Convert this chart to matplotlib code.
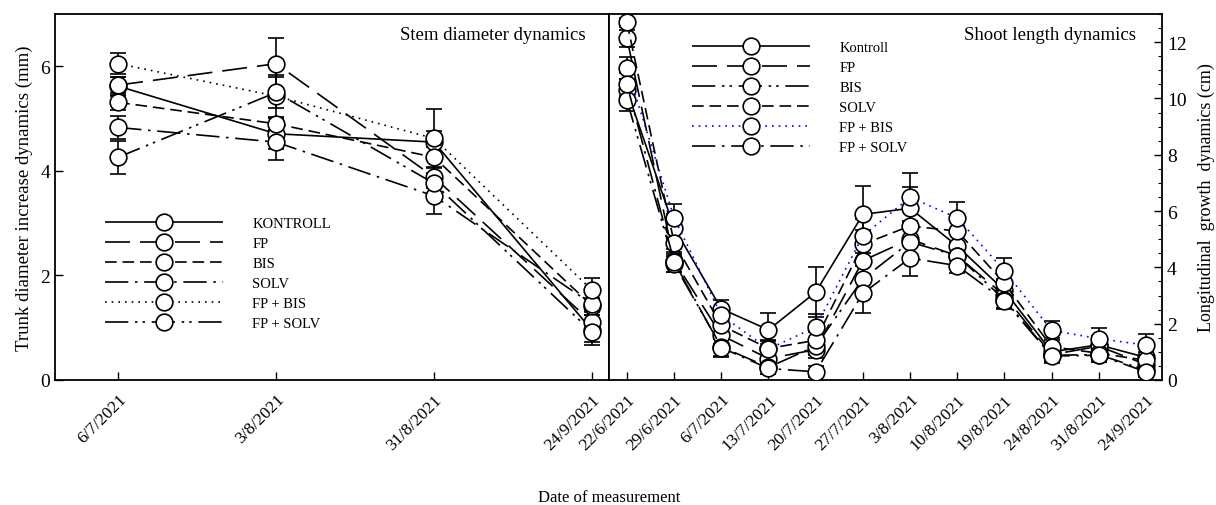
import matplotlib
matplotlib.use("Agg")
import matplotlib.pyplot as plt
from matplotlib.ticker import MultipleLocator

plt.rcParams['font.family'] = ['Liberation Serif', 'DejaVu Serif']

# ---- left panel: stem diameter (mm) ----
stem_dates = ["6/7/2021", "3/8/2021", "31/8/2021", "24/9/2021"]
stem_names = ["KONTROLL", "FP", "BIS", "SOLV", "FP + BIS", "FP + SOLV"]
stem_kontroll = [5.62, 4.71, 4.55, 0.95]
stem_fp = [5.64, 6.05, 3.88, 1.10]
stem_bis = [5.31, 4.90, 4.26, 1.42]
stem_solv = [4.83, 4.55, 3.52, 1.45]
stem_fpbis = [6.05, 5.43, 4.62, 1.72]
stem_fpsolv = [4.26, 5.50, 3.76, 0.92]
stem_kontroll_err = [0.18, 0.30, 0.64, 0.29]
stem_fp_err = [0.15, 0.50, 0.20, 0.15]
stem_bis_err = [0.14, 0.12, 0.20, 0.12]
stem_solv_err = [0.22, 0.35, 0.35, 0.12]
stem_fpbis_err = [0.20, 0.40, 0.15, 0.24]
stem_fpsolv_err = [0.32, 0.30, 0.20, 0.20]

# ---- right panel: shoot length (cm) ----
shoot_dates = ["22/6/2021", "29/6/2021", "6/7/2021", "13/7/2021", "20/7/2021", "27/7/2021",
               "3/8/2021", "10/8/2021", "19/8/2021", "24/8/2021", "31/8/2021", "24/9/2021"]
shoot_names = ["Kontroll", "FP", "BIS", "SOLV", "FP + BIS", "FP + SOLV"]
shoot_kontroll = [10.29, 5.41, 2.53, 1.78, 3.12, 5.88, 6.10, 4.76, 3.18, 1.00, 1.25, 0.80]
shoot_fp = [12.14, 4.24, 1.59, 0.76, 1.08, 4.24, 5.00, 4.41, 3.00, 0.90, 1.20, 0.55]
shoot_bis = [9.94, 4.12, 1.18, 0.45, 1.20, 3.59, 4.90, 4.41, 2.85, 0.88, 0.90, 0.35]
shoot_solv = [12.70, 4.88, 1.94, 1.12, 1.41, 4.82, 5.47, 5.29, 3.44, 1.18, 0.95, 0.70]
shoot_fpbis = [11.08, 5.76, 2.30, 1.10, 1.88, 5.12, 6.49, 5.76, 3.88, 1.76, 1.47, 1.24]
shoot_fpsolv = [10.50, 4.20, 1.15, 0.41, 0.29, 3.08, 4.33, 4.06, 2.82, 0.85, 0.88, 0.29]
shoot_kontroll_err = [0.40, 0.50, 0.30, 0.60, 0.88, 1.00, 0.75, 0.50, 0.40, 0.30, 0.30, 0.30]
shoot_fp_err = [0.30, 0.40, 0.30, 0.30, 0.30, 0.50, 0.60, 0.30, 0.30, 0.25, 0.30, 0.30]
shoot_bis_err = [0.40, 0.30, 0.35, 0.25, 0.30, 0.45, 0.50, 0.30, 0.30, 0.25, 0.25, 0.25]
shoot_solv_err = [0.15, 0.40, 0.30, 0.30, 0.30, 0.50, 0.70, 0.40, 0.40, 0.30, 0.25, 0.30]
shoot_fpbis_err = [0.40, 0.50, 0.30, 0.30, 0.45, 0.60, 0.85, 0.55, 0.45, 0.33, 0.37, 0.38]
shoot_fpsolv_err = [0.40, 0.35, 0.30, 0.20, 0.20, 0.70, 0.65, 0.25, 0.30, 0.25, 0.25, 0.20]

stem_vals = [stem_kontroll, stem_fp, stem_bis, stem_solv, stem_fpbis, stem_fpsolv]
stem_errs = [stem_kontroll_err, stem_fp_err, stem_bis_err, stem_solv_err, stem_fpbis_err, stem_fpsolv_err]
shoot_vals = [shoot_kontroll, shoot_fp, shoot_bis, shoot_solv, shoot_fpbis, shoot_fpsolv]
shoot_errs = [shoot_kontroll_err, shoot_fp_err, shoot_bis_err, shoot_solv_err, shoot_fpbis_err, shoot_fpsolv_err]

# line styles (dash patterns in units of linewidth)
solid = (0, ())
long_dash = (0, (15, 6))
dash = (0, (7, 3.5))
dash_dot = (0, (14, 4, 1.5, 4))
dots = (0, (1, 3))
dash_dot_dot = (0, (14, 4, 1.5, 3, 1.5, 4))
stem_styles = [solid, long_dash, dash, dash_dot, dots, dash_dot_dot]
shoot_styles = [solid, long_dash, dash_dot_dot, dash, dots, dash_dot]
shoot_colors = ['black', 'black', 'black', 'black', 'blue', 'black']

fig = plt.figure(figsize=(12.16, 5.06), dpi=100)
ax1 = fig.add_axes([55 / 1216, 125 / 506, 554 / 1216, 366 / 506])
ax2 = fig.add_axes([609 / 1216, 125 / 506, 553 / 1216, 366 / 506])

lw = 1.2
ms = 12


def draw_panel(ax, n, vals, errs, names, styles, colors):
    x = list(range(n))
    for v, e, name, st, c in zip(vals, errs, names, styles, colors):
        ax.errorbar(x, v, yerr=e, fmt='none', ecolor='black', elinewidth=lw,
                    capsize=6, capthick=lw, zorder=2)
        ax.plot(x, v, linestyle=st, color=c, linewidth=lw, marker='o', markersize=ms,
                markerfacecolor='white', markeredgecolor='black', markeredgewidth=lw,
                label=name, zorder=3)


draw_panel(ax1, len(stem_dates), stem_vals, stem_errs, stem_names, stem_styles, ['black'] * 6)
draw_panel(ax2, len(shoot_dates), shoot_vals, shoot_errs, shoot_names, shoot_styles, shoot_colors)

# left panel axes
ax1.set_xlim(-0.40, 3.108)
ax1.set_ylim(0, 7)
ax1.set_yticks([0, 2, 4, 6])
ax1.set_xticks(range(len(stem_dates)))
ax1.set_xticklabels(stem_dates, rotation=45, ha='right', rotation_mode='anchor')
ax1.tick_params(axis='both', direction='in', length=6, width=1.0, labelsize=14)
ax1.tick_params(axis='x', labelsize=12.5, pad=8)
ax1.set_ylabel("Trunk diameter increase dynamics (mm)", fontsize=13.5, labelpad=5)
ax1.text(0.957, 0.943, "Stem diameter dynamics", transform=ax1.transAxes,
         ha='right', va='center', fontsize=13.5)
ax1.legend(loc='upper left', bbox_to_anchor=(0.09, 0.447), frameon=False, fontsize=10.5,
           handlelength=8.1, handletextpad=2.0, labelspacing=0.47, borderpad=0,
           borderaxespad=0, numpoints=1)

# right panel axes
ax2.set_xlim(-0.38, 11.34)
ax2.set_ylim(0, 13)
ax2.yaxis.tick_right()
ax2.yaxis.set_label_position('right')
ax2.set_yticks([0, 2, 4, 6, 8, 10, 12])
ax2.yaxis.set_minor_locator(MultipleLocator(0.5))
ax2.set_xticks(range(len(shoot_dates)))
ax2.set_xticklabels(shoot_dates, rotation=45, ha='right', rotation_mode='anchor')
ax2.tick_params(axis='both', direction='in', length=6, width=1.0, labelsize=14)
ax2.tick_params(axis='y', which='minor', direction='in', length=3, width=0.8)
ax2.tick_params(axis='x', labelsize=12.5, pad=8)
ax2.set_ylabel("Longitudinal  growth  dynamics (cm)", fontsize=13, labelpad=8)
ax2.text(0.953, 0.945, "Shoot length dynamics", transform=ax2.transAxes,
         ha='right', va='center', fontsize=13.5)
ax2.legend(loc='upper left', bbox_to_anchor=(0.15, 0.927), frameon=False, fontsize=10.5,
           handlelength=8.1, handletextpad=2.0, labelspacing=0.47, borderpad=0,
           borderaxespad=0, numpoints=1)

for ax in (ax1, ax2):
    for sp in ax.spines.values():
        sp.set_linewidth(1.3)

fig.text(609 / 1216, 1 - 498 / 506, "Date of measurement", ha='center', va='center', fontsize=12)

fig.savefig("out.png", dpi=100)
